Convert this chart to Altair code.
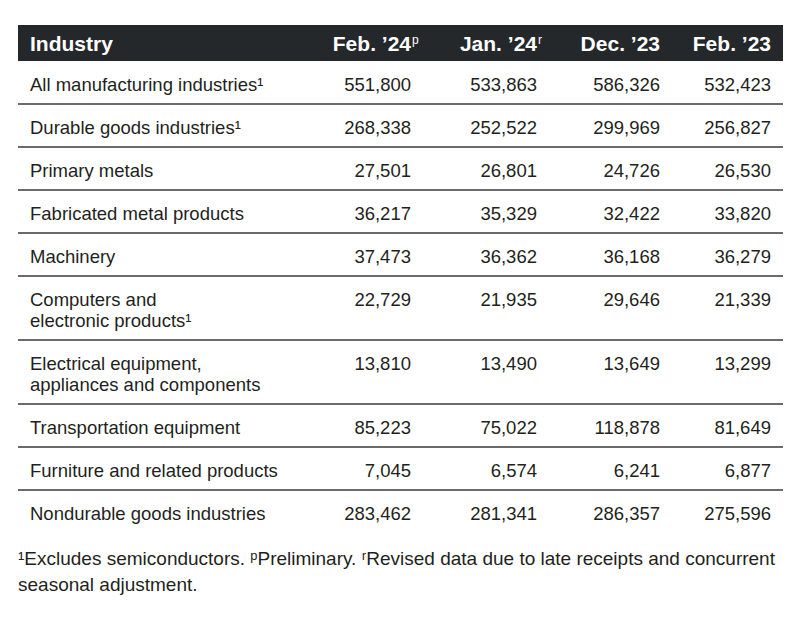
import altair as alt
import pandas as pd

# ---- data ----
industries = [
    ["All manufacturing industries¹"],
    ["Durable goods industries¹"],
    ["Primary metals"],
    ["Fabricated metal products"],
    ["Machinery"],
    ["Computers and", "electronic products¹"],
    ["Electrical equipment,", "appliances and components"],
    ["Transportation equipment"],
    ["Furniture and related products"],
    ["Nondurable goods industries"],
]
columns = ["Feb. ’24", "Jan. ’24", "Dec. ’23", "Feb. ’23"]
column_marks = ["p", "r", "", ""]
feb24 = [551800, 268338, 27501, 36217, 37473, 22729, 13810, 85223, 7045, 283462]
jan24 = [533863, 252522, 26801, 35329, 36362, 21935, 13490, 75022, 6574, 281341]
dec23 = [586326, 299969, 24726, 32422, 36168, 29646, 13649, 118878, 6241, 286357]
feb23 = [532423, 256827, 26530, 33820, 36279, 21339, 13299, 81649, 6877, 275596]
footnote = [
    "¹Excludes semiconductors. ᵖPreliminary. ʳRevised data due to late receipts and concurrent",
    "seasonal adjustment.",
]

# ---- layout (pixel space of the 800x620 page) ----
FONT = "Liberation Sans, Arial, Helvetica, sans-serif"
TXT = "#231f20"
LEFT, RIGHT = 18, 783
HEAD_TOP, HEAD_BOT = 25, 61
ROW_H, LINE_STEP = 43, 21
LABEL_X = 30
COL_RIGHT = [411, 537, 660, 771]

series = [feb24, jan24, dec23, feb23]

label_rows, num_rows, rule_rows = [], [], []
top = HEAD_BOT
for i, lines in enumerate(industries):
    h = ROW_H + LINE_STEP * (len(lines) - 1)
    base = top + 30
    for k, ln in enumerate(lines):
        label_rows.append({"x": LABEL_X, "y": base + k * LINE_STEP, "t": ln})
    for c, s in enumerate(series):
        num_rows.append({"x": COL_RIGHT[c], "y": base, "t": f"{s[i]:,}"})
    top += h
    if i < len(industries) - 1:
        rule_rows.append({"x": LEFT, "x2": RIGHT, "y": top})

label_df = pd.DataFrame(label_rows)
num_df = pd.DataFrame(num_rows)
rule_df = pd.DataFrame(rule_rows)
head_df = pd.DataFrame(
    [{"x": LABEL_X, "y": 51, "t": "Industry", "a": "left"}]
    + [{"x": COL_RIGHT[c], "y": 51, "t": columns[c], "a": "right"} for c in range(4)]
)
sup_df = pd.DataFrame(
    [{"x": COL_RIGHT[c] + 1, "y": 44, "t": column_marks[c]} for c in range(4) if column_marks[c]]
)
band_df = pd.DataFrame([{"x": LEFT, "x2": RIGHT, "y": HEAD_TOP, "y2": HEAD_BOT}])
foot_df = pd.DataFrame(
    [{"x": LEFT, "y": 565 + k * 26, "t": t} for k, t in enumerate(footnote)]
)

xs = alt.Scale(domain=[8, 792], range=[0, 784])
ys = alt.Scale(domain=[8, 612], range=[0, 604])
X = lambda f="x": alt.X(f"{f}:Q", scale=xs, axis=None)
Y = lambda f="y": alt.Y(f"{f}:Q", scale=ys, axis=None)

band = alt.Chart(band_df).mark_rect(color="#25282b").encode(
    x=X(), x2="x2:Q", y=Y(), y2="y2:Q"
)
head_left = alt.Chart(head_df[head_df.a == "left"]).mark_text(
    align="left", baseline="alphabetic", font=FONT, fontSize=21, fontWeight="bold", color="white"
).encode(x=X(), y=Y(), text="t:N")
head_right = alt.Chart(head_df[head_df.a == "right"]).mark_text(
    align="right", baseline="alphabetic", font=FONT, fontSize=21, fontWeight="bold", color="white"
).encode(x=X(), y=Y(), text="t:N")
sup = alt.Chart(sup_df).mark_text(
    align="left", baseline="alphabetic", font=FONT, fontSize=12, color="white"
).encode(x=X(), y=Y(), text="t:N")
rules = alt.Chart(rule_df).mark_rule(color="#3a3a3a", strokeWidth=1.5).encode(
    x=X(), x2="x2:Q", y=Y()
)
labels = alt.Chart(label_df).mark_text(
    align="left", baseline="alphabetic", font=FONT, fontSize=18.5, color=TXT
).encode(x=X(), y=Y(), text="t:N")
nums = alt.Chart(num_df).mark_text(
    align="right", baseline="alphabetic", font=FONT, fontSize=18.5, color=TXT
).encode(x=X(), y=Y(), text="t:N")
foot = alt.Chart(foot_df).mark_text(
    align="left", baseline="alphabetic", font=FONT, fontSize=19, color=TXT
).encode(x=X(), y=Y(), text="t:N")

chart = (
    alt.layer(band, head_left, head_right, sup, rules, labels, nums, foot)
    .properties(width=784, height=604, autosize=alt.AutoSizeParams(type="none"), padding=0)
    .configure_view(stroke=None)
)

chart.save("out.html", embed_options={"renderer": "svg", "actions": False})
